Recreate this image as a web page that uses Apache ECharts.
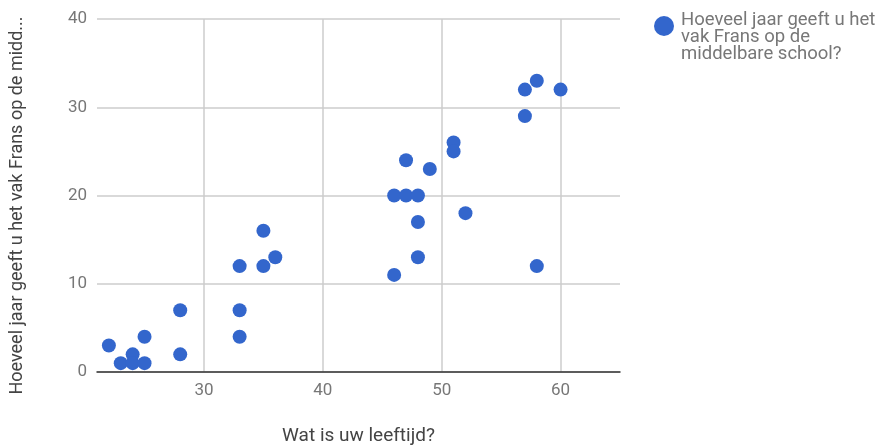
<!DOCTYPE html>
<html>
<head>
<meta charset="utf-8">
<script src="https://cdn.jsdelivr.net/npm/echarts@6/dist/echarts.min.js"></script>
<style>
  html, body { margin: 0; padding: 0; background: #fff; }
  #chart { width: 877px; height: 448px; }
</style>
</head>
<body>
<div id="chart"></div>
<script>
// Age of each teacher (x) and years teaching French in secondary school (y)
const ages  = [22, 23, 24, 24, 25, 25, 28, 28, 33, 33, 33, 35, 35, 36,
               46, 46, 47, 47, 48, 48, 48, 49, 51, 51, 52, 57, 57, 58, 58, 60];
const years = [3, 1, 2, 1, 4, 1, 7, 2, 12, 7, 4, 16, 12, 13,
               20, 11, 24, 20, 20, 17, 13, 23, 26, 25, 18, 32, 29, 33, 12, 32];
const xTicks = [30, 40, 50, 60];
const yTicks = [0, 10, 20, 30, 40];
const seriesName = 'Hoeveel jaar geeft u het vak Frans op de middelbare school?';
const yTitle = 'Hoeveel jaar geeft u het vak Frans op de midd...';
const legendLines = ['Hoeveel jaar geeft u het', 'vak Frans op de', 'middelbare school?'];
const xTitle = 'Wat is uw leeftijd?';

const points = ages.map((a, i) => [a, years[i]]);

const FONT = 'Roboto';
const chart = echarts.init(document.getElementById('chart'));
chart.setOption({
  animation: false,
  textStyle: { fontFamily: FONT },
  grid: { left: 97, right: 257, top: 19, bottom: 76, containLabel: false, outerBoundsMode: 'none' },
  legend: {
    left: 649, top: 11,
    icon: 'circle', itemWidth: 20, itemHeight: 20, itemGap: 0,
    formatter: () => '',
    textStyle: { fontSize: 1 }
  },
  graphic: [{
    type: 'text', left: 681, top: 11,
    style: { text: legendLines.join('\n'), fill: '#777777', font: '18.5px Roboto', lineHeight: 17 }
  }],
  xAxis: {
    type: 'value', min: 21, max: 65,
    name: xTitle, nameLocation: 'middle', nameGap: 55,
    nameTextStyle: { color: '#444', fontSize: 19, fontFamily: FONT },
    axisLine: { show: true, onZero: false, lineStyle: { color: '#333', width: 1.5 } },
    axisTick: { show: false, customValues: xTicks },
    axisLabel: { customValues: xTicks, color: '#777777', fontSize: 17, margin: 10 },
    splitLine: { show: true, lineStyle: { color: '#cccccc', width: 1.5 } }
  },
  yAxis: {
    type: 'value', min: yTicks[0], max: yTicks[yTicks.length - 1], interval: 10,
    name: yTitle, nameLocation: 'middle', nameRotate: 90, nameGap: 71,
    nameTextStyle: { color: '#444', fontSize: 18, fontFamily: FONT, padding: [0, 20, 0, 0] },
    axisLine: { show: false },
    axisTick: { show: false },
    axisLabel: { color: '#777777', fontSize: 17, margin: 10 },
    splitLine: { show: true, lineStyle: { color: '#cccccc', width: 1.5 } }
  },
  series: [{
    name: seriesName,
    type: 'scatter',
    data: points,
    symbolSize: 14,
    itemStyle: { color: '#3366cc', opacity: 1 }
  }]
});
</script>
</body>
</html>
